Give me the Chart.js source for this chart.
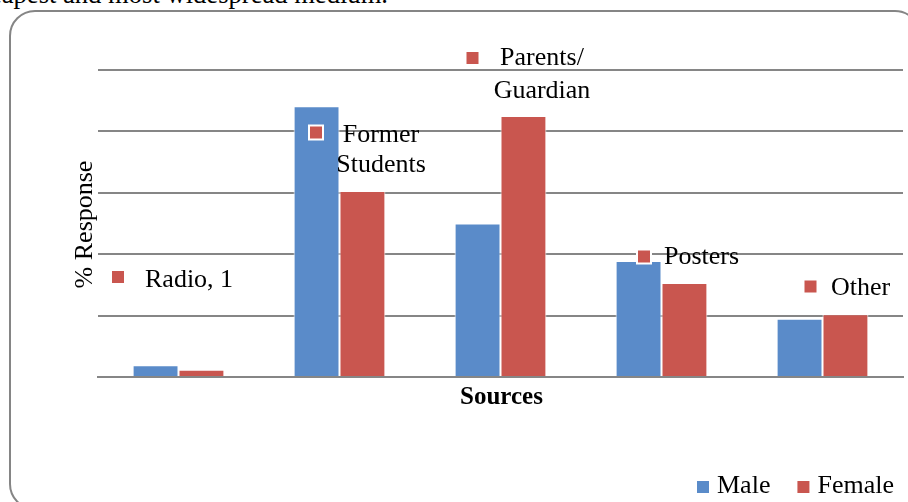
<!DOCTYPE html>
<html><head><meta charset="utf-8">
<script src="https://cdn.jsdelivr.net/npm/chart.js@4/dist/chart.umd.min.js"></script>
<style>
html,body{margin:0;padding:0;background:#fff;width:908px;height:502px;overflow:hidden;position:relative;}
#intro{position:absolute;right:520px;top:-19px;font:26.6px/26px "Liberation Serif",serif;white-space:nowrap;color:#000;}
#box{position:absolute;left:9px;top:10px;width:912px;height:500px;border:2px solid #858585;border-radius:26px;box-sizing:border-box;}
canvas{position:absolute;left:0;top:0;}
</style></head><body>
<div id="intro">cheapest and most widespread medium.</div>
<div id="box"></div>
<canvas id="c" width="908" height="502"></canvas>
<script>
const categories = ['Radio', 'Former Students', 'Parents/ Guardian', 'Posters', 'Other'];
const maleValues = [1.9, 44.1, 25.0, 18.9, 9.5];
const femaleValues = [1.2, 30.3, 42.5, 15.3, 10.2];
const seriesNames = ['Male', 'Female'];
const dataLabelLines = [['Radio, 1'], ['Former', 'Students'], ['Parents/', 'Guardian'], ['Posters'], ['Other']];
const yTickValues = [0, 10, 20, 30, 40, 50];
const yAxisTitle = '% Response';
const xAxisTitle = 'Sources';

const BLUE = '#5A8BC9';
const RED = '#C9564F';
const GRID = '#868686';
const SERIF = '"Liberation Serif", serif';

// label placement (offsets from category centre, pixel rows)
const labelLayout = [
  {sq: -60.5, sqY: 277, tx: -33.5, align: 'left', base: [287]},
  {sq: -23.5, sqY: 132.5, tx: 41.5, align: 'center', base: [142, 172]},
  {sq: -28, sqY: 58, tx: 41.5, align: 'center', base: [65, 98]},
  {sq: -17.5, sqY: 256.5, tx: 2.5, align: 'left', base: [264]},
  {sq: -12, sqY: 286.5, tx: 8.5, align: 'left', base: [295]}
];

const decor = {
  id: 'decor',
  afterDraw(chart) {
    const ctx = chart.ctx;
    const xs = chart.scales.x;
    const area = chart.chartArea;
    const REG = 'normal 400 26px ' + SERIF;
    ctx.save();
    ctx.textBaseline = 'alphabetic';
    dataLabelLines.forEach((lines, i) => {
      const cx = xs.getPixelForValue(i);
      const L = labelLayout[i];
      ctx.fillStyle = '#fff';
      ctx.fillRect(cx + L.sq - 8, L.sqY - 8, 16, 16);
      ctx.fillStyle = RED;
      ctx.fillRect(cx + L.sq - 6, L.sqY - 6, 12, 12);
      ctx.fillStyle = '#000';
      ctx.font = REG;
      ctx.textAlign = L.align;
      lines.forEach((t, k) => ctx.fillText(t, cx + L.tx, L.base[k]));
    });
    ctx.save();
    ctx.translate(92, (area.top + area.bottom) / 2 + 1);
    ctx.rotate(-Math.PI / 2);
    ctx.textAlign = 'center';
    ctx.font = REG;
    ctx.fillText(yAxisTitle, 0, 0);
    ctx.restore();
    ctx.textAlign = 'center';
    ctx.font = 'normal 700 25px ' + SERIF;
    ctx.fillText(xAxisTitle, (area.left + area.right) / 2 + 1, 404);
    ctx.font = REG;
    ctx.textAlign = 'left';
    let x = 697;
    chart.data.datasets.forEach((ds) => {
      ctx.fillStyle = ds.backgroundColor;
      ctx.fillRect(x, 481, 12, 12);
      ctx.fillStyle = '#000';
      ctx.fillText(ds.label, x + 20, 493);
      x += 20 + ctx.measureText(ds.label).width + 27;
    });
    ctx.restore();
  }
};

new Chart(document.getElementById('c'), {
  type: 'bar',
  data: {
    labels: categories,
    datasets: [
      {label: seriesNames[0], data: maleValues, backgroundColor: BLUE, borderColor: '#fff', borderWidth: 1, categoryPercentage: 0.57, barPercentage: 1},
      {label: seriesNames[1], data: femaleValues, backgroundColor: RED, borderColor: '#fff', borderWidth: 1, categoryPercentage: 0.57, barPercentage: 1}
    ]
  },
  options: {
    responsive: false,
    animation: false,
    layout: {padding: {left: 98, right: 5, top: 70, bottom: 125}},
    plugins: {legend: {display: false}, tooltip: {enabled: false}},
    scales: {
      x: {
        ticks: {display: false},
        grid: {display: false, drawTicks: false},
        border: {display: true, color: GRID, width: 2}
      },
      y: {
        min: yTickValues[0],
        max: yTickValues[yTickValues.length - 1],
        afterBuildTicks: (s) => { s.ticks = yTickValues.map(v => ({value: v})); },
        ticks: {display: false},
        grid: {color: GRID, lineWidth: 2, drawTicks: false},
        border: {display: false}
      }
    }
  },
  plugins: [decor]
});
</script>
</body></html>
